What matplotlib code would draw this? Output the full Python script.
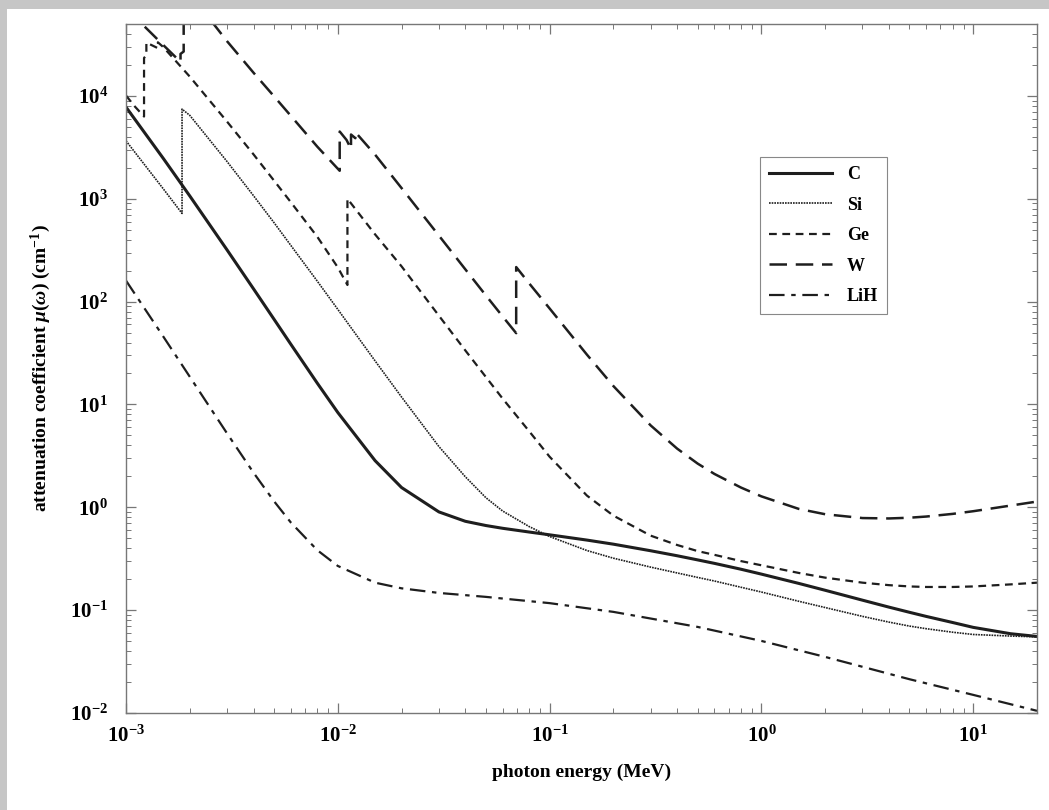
import matplotlib
matplotlib.use("Agg")
import matplotlib.pyplot as plt
from matplotlib.patches import Rectangle
import numpy as np

# photon energies in MeV, attenuation coefficients in cm^-1
energy_C = [1e-3, 1.5e-3, 2e-3, 3e-3, 4e-3, 5e-3, 6e-3, 8e-3, 1e-2, 1.5e-2, 2e-2, 3e-2,
            4e-2, 5e-2, 6e-2, 8e-2, 0.1, 0.15, 0.2, 0.3, 0.4, 0.5, 0.6, 0.8, 1.0, 1.5,
            2.0, 3.0, 4.0, 5.0, 6.0, 8.0, 10.0, 15.0, 20.0]
mu_C = [7783, 2465, 1065, 318, 133, 67.3, 38.5, 16.1, 8.35, 2.84, 1.556, 0.902,
        0.731, 0.665, 0.625, 0.575, 0.54, 0.48, 0.438, 0.378, 0.338, 0.308, 0.285, 0.25, 0.224, 0.182,
        0.156, 0.125, 0.107, 0.0953, 0.0869, 0.0758, 0.068, 0.059, 0.0555]

energy_Si = [1e-3, 1.5e-3, 1.8389e-3, 1.8389e-3, 2e-3, 3e-3, 4e-3, 5e-3, 6e-3, 8e-3, 1e-2,
             1.5e-2, 2e-2, 3e-2, 4e-2, 5e-2, 6e-2, 8e-2, 0.1, 0.15, 0.2, 0.3, 0.4, 0.5, 0.6,
             0.8, 1.0, 1.5, 2.0, 3.0, 4.0, 5.0, 6.0, 8.0, 10.0, 15.0, 20.0]
mu_Si = [3658, 1248, 720, 7437, 6470, 2300, 1070, 585, 352, 158, 84.0,
         26.5, 11.8, 3.9, 1.98, 1.24, 0.92, 0.65, 0.52, 0.38, 0.32, 0.262, 0.23, 0.208, 0.192,
         0.167, 0.150, 0.122, 0.106, 0.087, 0.0765, 0.070, 0.066, 0.061, 0.058, 0.056, 0.055]

energy_Ge = [1e-3, 1.1e-3, 1.2167e-3, 1.2167e-3, 1.2478e-3, 1.2478e-3, 1.4143e-3, 1.4143e-3,
             1.5e-3, 2e-3, 3e-3, 4e-3, 5e-3, 6e-3, 8e-3, 1e-2, 1.1103e-2, 1.1103e-2,
             1.5e-2, 2e-2, 3e-2, 4e-2, 5e-2, 6e-2, 8e-2, 0.1, 0.15, 0.2, 0.3, 0.4, 0.5,
             0.6, 0.8, 1.0, 1.5, 2.0, 3.0, 4.0, 5.0, 6.0, 8.0, 10.0, 15.0, 20.0]
mu_Ge = [10070, 7900, 6300, 23400, 24800, 33000, 29100, 33200,
         29800, 15400, 5620, 2700, 1500, 926, 427, 215, 145, 1000,
         450, 220, 73, 33.5, 18.5, 11.4, 5.5, 3.1, 1.3, 0.83, 0.53, 0.43, 0.375,
         0.345, 0.30, 0.273, 0.23, 0.207, 0.185, 0.175, 0.170, 0.168, 0.168, 0.170, 0.178, 0.185]

energy_W = [1e-3, 1.19e-3, 1.5e-3, 1.809e-3, 1.809e-3, 1.872e-3, 1.872e-3, 2.0e-3, 2.281e-3,
            2.281e-3, 2.5e-3, 3e-3, 4e-3, 5e-3, 6e-3, 8e-3, 1.0207e-2, 1.0207e-2, 1.1e-2,
            1.1544e-2, 1.1544e-2, 1.21e-2, 1.21e-2, 1.5e-2, 2e-2, 3e-2, 4e-2, 5e-2, 6e-2,
            6.9525e-2, 6.9525e-2, 8e-2, 0.1, 0.15, 0.2, 0.3, 0.4, 0.5, 0.6, 0.8, 1.0, 1.5,
            2.0, 3.0, 4.0, 5.0, 6.0, 8.0, 10.0, 15.0, 20.0]
mu_W = [71000, 50000, 31200, 21400, 25600, 27000, 60000, 58000, 54000,
        60000, 55000, 34000, 16800, 9900, 6400, 3210, 1870, 4505, 3725,
        3044, 4213, 3879, 4443, 2681, 1269, 438.7, 205.9, 114.8, 71.7,
        49.3, 216.7, 150.7, 85.7, 30.5, 15.1, 6.25, 3.72, 2.66, 2.11, 1.557, 1.277, 0.965,
        0.856, 0.786, 0.779, 0.792, 0.813, 0.863, 0.916, 1.039, 1.137]

energy_LiH = [1e-3, 1.5e-3, 2e-3, 3e-3, 4e-3, 5e-3, 6e-3, 8e-3, 1e-2, 1.5e-2, 2e-2, 3e-2,
              5e-2, 0.1, 0.2, 0.5, 1.0, 2.0, 5.0, 10.0, 20.0]
mu_LiH = [160, 45.7, 18.6, 5.23, 2.17, 1.145, 0.712, 0.383, 0.269, 0.185, 0.163, 0.147,
          0.1346, 0.117, 0.0962, 0.0687, 0.0502, 0.0351, 0.0213, 0.0150, 0.0105]

labels = ["C", "Si", "Ge", "W", "LiH"]
x_ticks = [1e-3, 1e-2, 1e-1, 1e0, 1e1]
y_ticks = [1e-2, 1e-1, 1e0, 1e1, 1e2, 1e3, 1e4]

plt.rcParams["font.family"] = ["Liberation Serif", "DejaVu Serif"]
plt.rcParams["font.weight"] = "bold"
plt.rcParams["mathtext.fontset"] = "custom"
plt.rcParams["mathtext.rm"] = "Liberation Serif:bold"
plt.rcParams["mathtext.it"] = "Liberation Serif:bold:italic"
plt.rcParams["mathtext.bf"] = "Liberation Serif:bold"

fig = plt.figure(figsize=(10.49, 8.10), dpi=100)
ax = fig.add_axes([126 / 1049, 1 - 713 / 810, (1037 - 126) / 1049, (713 - 24) / 810])

# textured page border on top and left
fig.patches.append(Rectangle((0, 1 - 9 / 810), 1, 9 / 810, transform=fig.transFigure,
                             facecolor="#c6c6c6", edgecolor="none", zorder=-1))
fig.patches.append(Rectangle((0, 0), 7 / 1049, 1, transform=fig.transFigure,
                             facecolor="#c6c6c6", edgecolor="none", zorder=-1))

ink = "#1e1e1e"
ax.plot(energy_C, mu_C, color=ink, lw=2.2, ls="-", label=labels[0])
ax.plot(energy_Si, mu_Si, color=ink, lw=1.2, ls=(0, (1, 0.6)), label=labels[1])
ax.plot(energy_Ge, mu_Ge, color=ink, lw=1.6, ls=(0, (3.5, 2.5)), label=labels[2])
ax.plot(energy_W, mu_W, color=ink, lw=1.8, ls=(0, (7, 3.5)), label=labels[3])
ax.plot(energy_LiH, mu_LiH, color=ink, lw=1.6, ls=(0, (7, 3, 2, 3)), label=labels[4])

ax.set_xscale("log")
ax.set_yscale("log")
ax.set_xlim(1e-3, 20)
ax.set_ylim(1e-2, 5e4)
ax.set_xticks(x_ticks)
ax.set_yticks(y_ticks)

ax.tick_params(which="both", direction="in", top=True, right=True, color="#777777")
ax.tick_params(which="major", length=7, width=0.9, labelsize=15, pad=9)
ax.tick_params(which="minor", length=3.5, width=0.7)
ax.tick_params(axis="y", which="major", pad=13)
ax.xaxis.set_minor_locator(matplotlib.ticker.LogLocator(base=10, subs=np.arange(2, 10), numticks=20))
ax.yaxis.set_minor_locator(matplotlib.ticker.LogLocator(base=10, subs=np.arange(2, 10), numticks=20))
ax.xaxis.set_minor_formatter(matplotlib.ticker.NullFormatter())
ax.yaxis.set_minor_formatter(matplotlib.ticker.NullFormatter())
for lab in ax.get_xticklabels() + ax.get_yticklabels():
    lab.set_fontweight("bold")
for s in ax.spines.values():
    s.set_color("#777777")
    s.set_linewidth(1.0)

ax.set_xlabel("photon energy (MeV)", fontsize=14, fontweight="bold", labelpad=12)
ax.set_ylabel(r"attenuation coefficient $\mu(\omega)$ (cm$^{-1}$)", fontsize=14,
              fontweight="bold", labelpad=12)

leg = ax.legend(loc="upper left", bbox_to_anchor=(0.696, 0.807), borderaxespad=0,
                fancybox=False, edgecolor="#888888", framealpha=1, fontsize=13,
                handlelength=3.5, handletextpad=0.8, labelspacing=0.75, borderpad=0.5)
leg.get_frame().set_linewidth(0.8)
for t in leg.get_texts():
    t.set_fontweight("bold")

fig.savefig("out.png", dpi=100)
